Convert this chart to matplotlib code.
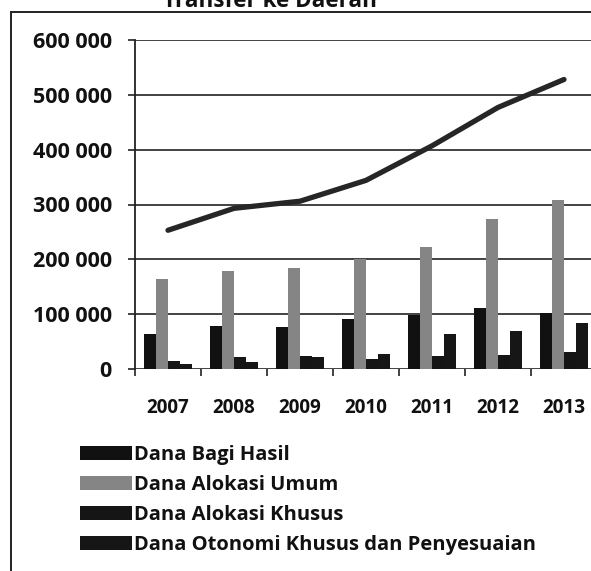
import matplotlib
matplotlib.use("Agg")
import matplotlib.pyplot as plt
from matplotlib.patches import Rectangle
import numpy as np

plt.rcParams['font.family'] = ['Open Sans', 'DejaVu Sans']

years = ['2007', '2008', '2009', '2010', '2011', '2012', '2013']
dana_bagi_hasil = [63000, 79000, 76000, 92000, 99000, 111000, 102000]
dana_alokasi_umum = [164000, 179000, 185000, 201000, 222000, 273000, 309000]
dana_alokasi_khusus = [15000, 21000, 24000, 19000, 24000, 25000, 31000]
dana_otsus = [9000, 13000, 21000, 27000, 64000, 70000, 84000]
total_transfer = [253000, 293000, 306000, 344000, 407000, 477000, 528000]

series_labels = ['Dana Bagi Hasil', 'Dana Alokasi Umum', 'Dana Alokasi Khusus',
                 'Dana Otonomi Khusus dan Penyesuaian']
series_values = [dana_bagi_hasil, dana_alokasi_umum, dana_alokasi_khusus, dana_otsus]
series_colors = ['#111111', '#858585', '#151515', '#161616']

W, H, DPI = 591, 571, 100
PT = DPI / 72.0
fig = plt.figure(figsize=(W / DPI, H / DPI), dpi=DPI)
ax = fig.add_axes([135 / W, 1 - 369 / H, (597 - 135) / W, (369 - 40) / H])

x = np.arange(len(years))
bw = 0.182
offsets = (np.arange(4) - 1.5) * bw
handles = []
for vals, lab, col, off in zip(series_values, series_labels, series_colors, offsets):
    h = ax.bar(x + off, vals, width=bw, color=col, label=lab, zorder=3, linewidth=0)
    handles.append(h)

ax.plot(x, total_transfer, color='#262626', lw=3.8, solid_capstyle='round', zorder=4)

ax.set_xlim(-0.5, 6.5)
ax.set_ylim(0, 600000)
yt = np.arange(0, 600001, 100000)
ax.set_yticks(yt)
ax.set_yticklabels(['0' if v == 0 else f'{v // 1000} 000' for v in yt])
ax.yaxis.grid(True, color='#222222', lw=1.2, zorder=1)
ax.set_xticks(np.arange(-0.5, 7, 1))
ax.set_xticklabels([])
ax.set_xticks(x, minor=True)
ax.set_xticklabels(years, minor=True)
xpad, ypad = 22.0, 11.0
xsize, ysize = 13.5, 13.5
ax.tick_params(axis='x', which='major', length=5, width=1.2, color='#222222', direction='out')
ax.tick_params(axis='x', which='minor', length=0, pad=xpad, labelsize=xsize, labelcolor='#111111')
ax.tick_params(axis='y', length=5, width=1.2, color='#222222', pad=ypad, labelsize=ysize,
               labelcolor='#111111')
for s in ['top', 'right', 'bottom']:
    ax.spines[s].set_visible(False)
ax.spines['left'].set_color('#222222')
ax.spines['left'].set_linewidth(1.3)


def bold_ticks():
    for lbl in ax.get_xticklabels(minor=True) + ax.get_yticklabels():
        lbl.set_fontweight('bold')


bold_ticks()

leg_state = {'leg': None}


def make_legend(size, ls, top_px):
    if leg_state['leg'] is not None:
        leg_state['leg'].remove()
    fpx = size * PT
    leg = fig.legend(handles=handles, labels=series_labels, loc='upper left',
                     bbox_to_anchor=(80 / W - 0.0, 1 - top_px / H), frameon=False,
                     prop={'size': size, 'weight': 'bold'}, handlelength=52 / fpx,
                     handleheight=14 / fpx, handletextpad=1.5 / fpx, labelspacing=ls,
                     borderaxespad=0, borderpad=0)
    for t in leg.get_texts():
        t.set_color('#111111')
    leg_state['leg'] = leg
    return leg


title = fig.text(270 / W, 1 - 7 / H, 'Transfer ke Daerah', ha='center', va='baseline',
                 fontsize=16, fontweight='bold', color='#111111')

fig.patches.append(Rectangle((11 / W, -0.05), 1.1, 1 - 12 / H + 0.05, transform=fig.transFigure,
                             fill=False, edgecolor='#222222', lw=1.4))

lsize, lspace, ltop = 14.0, 0.2, 440.0
leg = make_legend(lsize, lspace, ltop)

# ---- pass 1: match text widths measured on the reference ----
fig.canvas.draw()
r = fig.canvas.get_renderer()
w_leg = leg.get_texts()[3].get_window_extent(r).width
w_y = ax.get_yticklabels()[6].get_window_extent(r).width
w_x = ax.get_xticklabels(minor=True)[0].get_window_extent(r).width
w_t = title.get_window_extent(r).width
lsize = lsize * 404.0 / w_leg
ysize = ysize * 79.0 / w_y
xsize = xsize * 43.0 / w_x
title.set_fontsize(16 * 214.0 / w_t)
ax.tick_params(axis='x', which='minor', labelsize=xsize)
ax.tick_params(axis='y', labelsize=ysize)
bold_ticks()
leg = make_legend(lsize, lspace, ltop)

# ---- pass 2: positions ----
for _ in range(2):
    fig.canvas.draw()
    r = fig.canvas.get_renderer()
    bx = ax.get_xticklabels(minor=True)[0].get_window_extent(r)
    cy = (bx.y0 + bx.y1) / 2
    xpad += (cy - (H - 408)) / PT
    by = ax.get_yticklabels()[6].get_window_extent(r)
    ypad += (by.x1 - 112) / PT
    ax.tick_params(axis='x', which='minor', pad=xpad)
    ax.tick_params(axis='y', pad=ypad)
    bold_ticks()
    ts = leg.get_texts()
    c = [((t.get_window_extent(r).y0 + t.get_window_extent(r).y1) / 2) for t in ts]
    pitch = (c[0] - c[3]) / 3.0
    lspace += (30.0 - pitch) / (lsize * PT)
    ltop += (H - 455) - c[0] if False else ((H - c[0]) - 455) * -1
    leg = make_legend(lsize, lspace, ltop)

fig.canvas.draw()
r = fig.canvas.get_renderer()
c0 = leg.get_texts()[0].get_window_extent(r)
ltop += 455 - (H - (c0.y0 + c0.y1) / 2)
leg = make_legend(lsize, lspace, ltop)

fig.savefig('out.png', dpi=DPI)
